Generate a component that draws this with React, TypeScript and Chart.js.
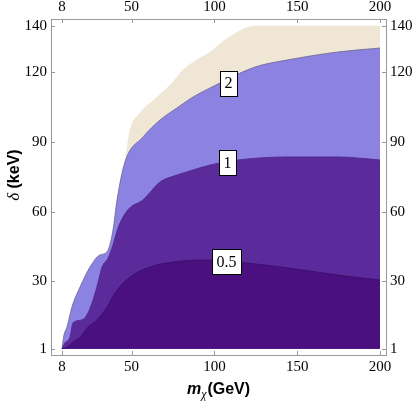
import React, { useEffect, useRef } from "react";
import { Chart, registerables } from "chart.js";

Chart.register(...registerables);

// Tick values
const xTicks = [8, 50, 100, 150, 200];
const yTicks = [1, 30, 60, 90, 120, 140];

// Region boundaries (upper edge of each filled region, m_chi in GeV vs delta in keV)
const beigeX = [46.0, 49.1, 55.1, 65.4, 75.0, 81.1, 91.3, 97.4, 106.4, 124.5, 200];
const beigeY = [81.4, 95.2, 102.5, 109.4, 115.9, 121.1, 126.2, 128.8, 134.0, 140, 140];

const lavenderX = [8, 9.2, 11.0, 14.0, 18.9, 24.9, 30.9, 35.2, 38.8, 41.2, 46.0, 56.9, 67.2, 77.4, 87.1, 97.4, 124.5, 144.5, 174.6, 200];
const lavenderY = [1, 6.9, 10.3, 19.0, 27.6, 36.2, 41.4, 42.7, 52.1, 65.0, 81.4, 92.2, 99.5, 104.7, 109.4, 113.3, 122.3, 125.4, 128.8, 130.5];

const mediumX = [8, 9.8, 12.8, 14.6, 20.1, 23.7, 26.7, 29.7, 32.2, 35.8, 38.8, 41.8, 47.8, 56.9, 67.2, 77.4, 87.1, 97.4, 114.3, 144.5, 174.6, 200];
const mediumY = [1, 3.5, 6.0, 12.1, 13.4, 16.4, 22.0, 29.3, 36.2, 40.0, 45.7, 53.0, 60.8, 65.1, 72.8, 75.8, 78.0, 80.1, 82.3, 83.6, 83.6, 82.3];

const darkX = [8, 11.0, 14.0, 18.9, 23.7, 29.1, 35.2, 40.0, 49.1, 61.1, 75.0, 91.3, 97.4, 114.3, 144.5, 174.6, 200];
const darkY = [1, 1.7, 3.5, 6.0, 10.3, 13.4, 19.0, 25.0, 31.9, 36.2, 38.3, 39.2, 39.2, 38.3, 35.8, 32.7, 30.6];

// Contour labels
const contourLabels = ["2", "1", "0.5"];
const labelX = [108.5, 107.9, 107.3];
const labelY = [115.4, 81.0, 38.6];

const AXIS_COLOR = "#9a9a9a";
const TICK_FONT = { family: "'Liberation Serif', serif", size: 15 };

const pts = (xs: number[], ys: number[]) => xs.map((x, i) => ({ x, y: ys[i] }));

const overlay = {
  id: "overlay",
  afterDraw(chart: any) {
    const ctx = chart.ctx as CanvasRenderingContext2D;
    const xs = chart.scales.x;
    const ys = chart.scales.y;
    const ca = chart.chartArea;
    ctx.save();
    // inward tick marks
    ctx.strokeStyle = AXIS_COLOR;
    ctx.lineWidth = 1;
    ctx.beginPath();
    xTicks.forEach((v) => {
      const px = Math.round(xs.getPixelForValue(v)) + 0.5;
      ctx.moveTo(px, ca.bottom);
      ctx.lineTo(px, ca.bottom - 4);
      ctx.moveTo(px, ca.top);
      ctx.lineTo(px, ca.top + 4);
    });
    yTicks.forEach((v) => {
      const py = Math.round(ys.getPixelForValue(v)) + 0.5;
      ctx.moveTo(ca.left, py);
      ctx.lineTo(ca.left + 4, py);
      ctx.moveTo(ca.right, py);
      ctx.lineTo(ca.right - 4, py);
    });
    ctx.stroke();

    // contour labels
    ctx.font = "16px 'Liberation Serif', serif";
    ctx.textAlign = "center";
    ctx.textBaseline = "middle";
    contourLabels.forEach((t, i) => {
      const cx = xs.getPixelForValue(labelX[i]);
      const cy = ys.getPixelForValue(labelY[i]);
      const w = ctx.measureText(t).width + 9;
      const h = 25;
      const bx = Math.round(cx - w / 2) + 0.5;
      const by = Math.round(cy - h / 2) + 0.5;
      ctx.fillStyle = "#ffffff";
      ctx.fillRect(bx, by, Math.round(w), h);
      ctx.strokeStyle = "#000000";
      ctx.lineWidth = 1;
      ctx.strokeRect(bx, by, Math.round(w), h);
      ctx.fillStyle = "#000000";
      ctx.fillText(t, cx, cy + 1);
    });

    // x axis title: m_chi(GeV)
    ctx.textAlign = "left";
    ctx.textBaseline = "alphabetic";
    ctx.fillStyle = "#000";
    const fM = "italic bold 16px 'Liberation Sans', sans-serif";
    const fChi = "italic 12px 'Liberation Serif', serif";
    const fG = "bold 16px 'Liberation Sans', sans-serif";
    ctx.font = fM;
    const wM = ctx.measureText("m").width;
    ctx.font = fChi;
    const wChi = ctx.measureText("χ").width;
    ctx.font = fG;
    const wG = ctx.measureText("(GeV)").width;
    const total = wM + wChi + 1 + wG;
    let sx = (ca.left + ca.right) / 2 - total / 2;
    const baseY = 394;
    ctx.font = fM;
    ctx.fillText("m", sx, baseY);
    sx += wM;
    ctx.font = fChi;
    ctx.fillText("χ", sx, baseY + 4);
    sx += wChi + 1;
    ctx.font = fG;
    ctx.fillText("(GeV)", sx, baseY);

    // y axis title: δ (keV)
    ctx.save();
    ctx.translate(19, 175);
    ctx.rotate(-Math.PI / 2);
    const fD = "italic 17px 'Liberation Serif', serif";
    const fK = "bold 16px 'Liberation Sans', sans-serif";
    ctx.font = fD;
    const wD = ctx.measureText("δ ").width;
    ctx.font = fK;
    const wK = ctx.measureText("(keV)").width;
    let ty = -(wD + wK) / 2;
    ctx.font = fD;
    ctx.fillText("δ ", ty, 0);
    ty += wD;
    ctx.font = fK;
    ctx.fillText("(keV)", ty, 0);
    ctx.restore();

    ctx.restore();
  },
};

function axis(position: string, size: number, ticks: number[], min: number, max: number) {
  const horizontal = position === "top" || position === "bottom";
  return {
    type: "linear",
    position,
    min,
    max,
    afterBuildTicks: (s: any) => {
      s.ticks = ticks.map((v) => ({ value: v }));
    },
    afterFit: (s: any) => {
      if (horizontal) s.height = size;
      else s.width = size;
    },
    ticks: {
      font: TICK_FONT,
      color: "#000",
      padding: horizontal ? 3 : 4,
      maxRotation: 0,
      autoSkip: false,
      callback: (v: any) => String(v),
    },
    grid: { display: false, drawTicks: false, drawOnChartArea: false },
    border: { display: true, color: AXIS_COLOR, width: 1 },
  };
}

export default function App() {
  const ref = useRef<HTMLCanvasElement | null>(null);
  useEffect(() => {
    if (!ref.current) return;
    const X_MIN = 1.36, X_MAX = 203.6, Y_MIN = -1.71, Y_MAX = 143.0;
    const chart = new Chart(ref.current, {
      type: "line",
      data: {
        datasets: [
          {
            label: "0.5",
            data: pts(darkX, darkY),
            backgroundColor: "#4a1080",
            borderColor: "#3a0c66",
            borderWidth: 0.8,
            fill: { value: 1 },
            pointRadius: 0,
            cubicInterpolationMode: "monotone",
            order: 0,
          },
          {
            label: "1",
            data: pts(mediumX, mediumY),
            backgroundColor: "#5b2b9c",
            borderColor: "#4c2488",
            borderWidth: 0.8,
            fill: { value: 1 },
            pointRadius: 0,
            cubicInterpolationMode: "monotone",
            order: 1,
          },
          {
            label: "2",
            data: pts(lavenderX, lavenderY),
            backgroundColor: "#8c82e1",
            borderColor: "#6a6490",
            borderWidth: 0.8,
            fill: { value: 1 },
            pointRadius: 0,
            cubicInterpolationMode: "monotone",
            order: 2,
          },
          {
            label: "outer",
            data: pts(beigeX, beigeY),
            backgroundColor: "#f0e6d6",
            borderColor: "#f0e6d6",
            borderWidth: 0.5,
            fill: { value: 1 },
            pointRadius: 0,
            cubicInterpolationMode: "monotone",
            order: 3,
          },
        ] as any,
      },
      options: {
        responsive: false,
        animation: false,
        devicePixelRatio: 1,
        layout: { padding: 0 },
        plugins: {
          legend: { display: false },
          tooltip: { enabled: false },
        },
        scales: {
          x: axis("bottom", 48, xTicks, X_MIN, X_MAX),
          x2: axis("top", 19, xTicks, X_MIN, X_MAX),
          y: axis("left", 51, yTicks, Y_MIN, Y_MAX),
          y2: axis("right", 29, yTicks, Y_MIN, Y_MAX),
        } as any,
      },
      plugins: [overlay],
    });
    return () => chart.destroy();
  }, []);
  return (
    <div style={{ position: "fixed", left: 0, top: 0, width: 415, height: 403, background: "#fff" }}>
      <canvas ref={ref} width={415} height={403} style={{ display: "block" }} />
    </div>
  );
}
